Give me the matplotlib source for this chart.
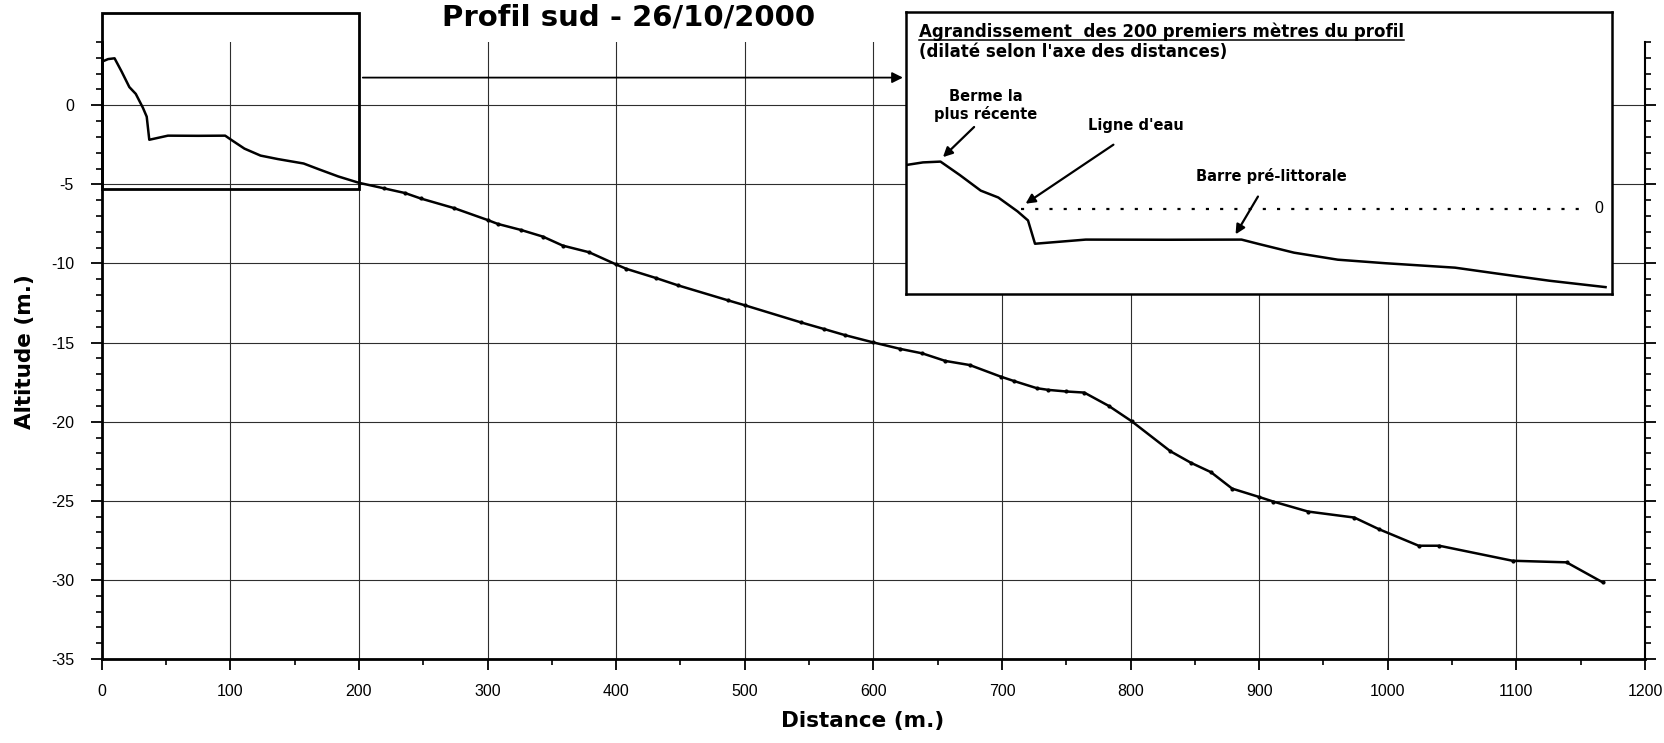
import matplotlib
matplotlib.use('Agg')
import matplotlib.pyplot as plt
from matplotlib.patches import Rectangle
from matplotlib.lines import Line2D
from matplotlib.ticker import MultipleLocator

plt.rcParams['font.family'] = ['Liberation Sans', 'DejaVu Sans']
plt.rcParams['axes.unicode_minus'] = False

# ---------------- data ----------------
distance = [0, 5, 10, 15.5, 21.5, 26.5, 32, 35, 37, 51.5, 75, 96, 101, 111,
            123.5, 137, 157, 169, 184, 200, 219.5, 236, 248, 274, 300, 308,
            326, 343, 358.5, 379, 400, 408, 431, 448, 487, 500, 544, 562, 578,
            600, 621, 638, 656, 675, 699, 709, 727, 736, 750, 764, 783, 801,
            831, 847, 862.5, 879, 900, 911, 938, 974, 993, 1024, 1040, 1097,
            1139, 1167]
altitude = [2.75, 2.92, 2.97, 2.13, 1.15, 0.72, -0.15, -0.72, -2.18, -1.92,
            -1.93, -1.92, -2.2, -2.74, -3.18, -3.4, -3.68, -4.05, -4.5, -4.9,
            -5.25, -5.55, -5.89, -6.5, -7.25, -7.5, -7.88, -8.3, -8.87, -9.29,
            -10.06, -10.34, -10.92, -11.38, -12.33, -12.64, -13.73, -14.15,
            -14.53, -14.99, -15.4, -15.68, -16.16, -16.42, -17.15, -17.42,
            -17.88, -17.99, -18.09, -18.16, -19.0, -19.98, -21.87, -22.6,
            -23.19, -24.23, -24.76, -25.05, -25.68, -26.06, -26.79, -27.84,
            -27.84, -28.79, -28.89, -30.15]

title = "Profil sud - 26/10/2000"
xlabel = "Distance (m.)"
ylabel = "Altitude (m.)"
inset_title = "Agrandissement  des 200 premiers mètres du profil"
inset_subtitle = "(dilaté selon l'axe des distances)"
zoom_limit = 200
water_level = 0
water_label = "0"
berme_label = ["Berme la", "plus récente"]
ligne_label = "Ligne d'eau"
barre_label = "Barre pré-littorale"
# feature points (distance, altitude) pointed at by the inset arrows
berme_point = (10.7, 3.25)
ligne_point = (34.3, 0.33)
barre_point = (94.3, -1.59)

BOLD = dict(family='DejaVu Sans', fontweight='bold')

# ---------------- layout helpers ----------------
W, H = 1664, 743
fig = plt.figure(figsize=(W / 100, H / 100), dpi=100)


def fx(px):
    return px / W


def fy(py):
    return 1 - py / H


# ---------------- main axes ----------------
ax = fig.add_axes([fx(101.7), fy(659), fx(1645) - fx(101.7), fy(42) - fy(659)])
ax.set_xlim(0, 1200)
ax.set_ylim(-35, 4)
ax.xaxis.set_major_locator(MultipleLocator(100))
ax.xaxis.set_minor_locator(MultipleLocator(50))
ax.yaxis.set_major_locator(MultipleLocator(5))
ax.yaxis.set_minor_locator(MultipleLocator(1))
ax.grid(True, which='major', color='#2e2e2e', lw=0.8, zorder=1)
ax.set_axisbelow(True)

ax.spines['top'].set_visible(False)
ax.spines['left'].set_linewidth(2.0)
ax.spines['bottom'].set_linewidth(2.0)
ax.spines['right'].set_linewidth(1.5)

ax.tick_params(axis='both', which='major', direction='out', length=8,
               width=1.3, labelsize=11.5, color='black')
ax.tick_params(axis='both', which='minor', direction='out', length=4,
               width=1.2, color='black')
ax.tick_params(axis='y', which='both', right=True, labelright=False)
ax.tick_params(axis='y', which='major', pad=12)
ax.tick_params(axis='x', which='major', pad=10)

mark_idx = [i for i, d in enumerate(distance) if d > zoom_limit]
ax.plot(distance, altitude, color='black', lw=1.8, marker='o', ms=2.0,
        markevery=mark_idx, zorder=5, solid_joinstyle='round')

# frame around the first 200 m
ax.add_patch(Rectangle((0, -5.3), zoom_limit, 11.15, fill=False, lw=2.0,
                       edgecolor='black', clip_on=False, zorder=6))
ax.annotate('', xy=(623, 1.75), xytext=(zoom_limit + 3, 1.75),
            arrowprops=dict(arrowstyle='-|>', lw=1.3, color='black',
                            mutation_scale=16, shrinkA=0, shrinkB=0),
            annotation_clip=False, zorder=6)

# titles / labels
fig.text(fx(629), fy(25), title, ha='center', va='baseline', fontsize=21,
         **BOLD)
fig.text(fx(863), fy(721), xlabel, ha='center', va='center', fontsize=15.5,
         **BOLD)
fig.text(fx(25), fy(352), ylabel, ha='center', va='center', rotation=90,
         fontsize=15.5, **BOLD)

# ---------------- inset ----------------
axin = fig.add_axes([fx(905.5), fy(293.5), fx(1611.5) - fx(905.5),
                     fy(12) - fy(293.5)], zorder=10)
axin.set_facecolor('white')
d_in = [d for d in distance if d <= zoom_limit]
a_in = altitude[:len(d_in)]
axin.plot(d_in, a_in, color='black', lw=1.8, zorder=5,
          solid_joinstyle='round')
axin.set_xlim(0, 201.7)
axin.set_ylim(-5.3, 12.35)
for s in axin.spines.values():
    s.set_linewidth(1.8)
axin.set_xticks([])
axin.set_yticks([])

axin.plot([33, 194], [water_level, water_level], color='black', lw=1.6,
          ls=(0, (1.4, 5)))
axin.text(198, water_level, water_label, ha='center', va='center',
          fontsize=11.5)

arrow_kw = dict(arrowstyle='-|>', lw=1.6, color='black', mutation_scale=14,
                shrinkA=0, shrinkB=0)
axin.annotate('', xy=berme_point, xytext=(19.6, 5.14), arrowprops=arrow_kw,
              annotation_clip=False)
axin.annotate('', xy=ligne_point, xytext=(59.4, 4.03), arrowprops=arrow_kw,
              annotation_clip=False)
axin.annotate('', xy=barre_point, xytext=(100.7, 0.78), arrowprops=arrow_kw,
              annotation_clip=False)

fs_ann = 10.5
fig.text(fx(986), fy(101), berme_label[0], ha='center', va='baseline',
         fontsize=fs_ann, zorder=20, **BOLD)
fig.text(fx(986), fy(118.5), berme_label[1], ha='center', va='baseline',
         fontsize=fs_ann, zorder=20, **BOLD)
fig.text(fx(1136), fy(130), ligne_label, ha='center', va='baseline',
         fontsize=fs_ann, zorder=20, **BOLD)
fig.text(fx(1271), fy(181.5), barre_label, ha='center', va='baseline',
         fontsize=fs_ann, zorder=20, **BOLD)

t1 = fig.text(fx(919), fy(36.7), inset_title, ha='left', va='baseline',
              fontsize=12, zorder=20, **BOLD)
fig.text(fx(919), fy(57), inset_subtitle, ha='left', va='baseline',
         fontsize=12, zorder=20, **BOLD)

fig.canvas.draw()
bb = t1.get_window_extent(fig.canvas.get_renderer())
fig.add_artist(Line2D([bb.x0 / W, bb.x1 / W], [fy(39.6), fy(39.6)],
                      transform=fig.transFigure, lw=1.1, color='black',
                      zorder=21))

fig.savefig('out.png', dpi=100)
